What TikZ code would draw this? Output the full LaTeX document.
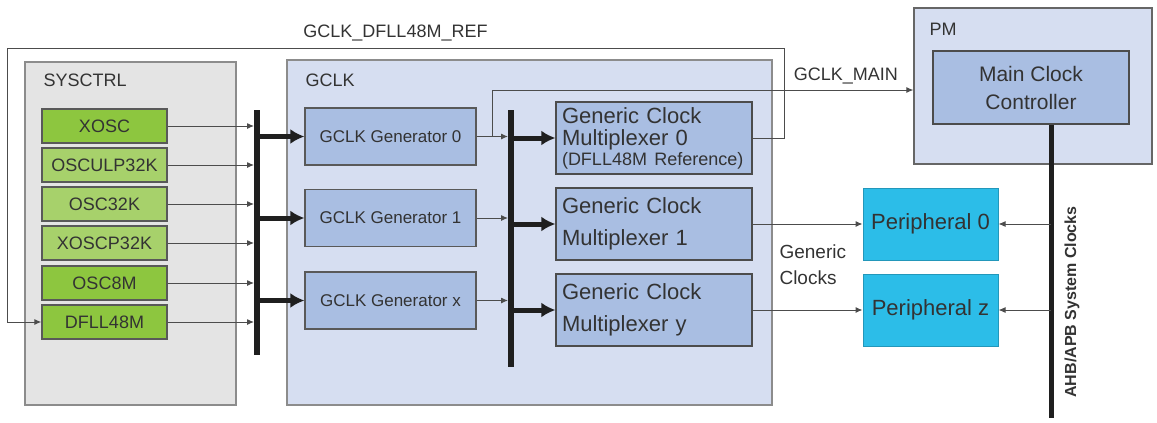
\documentclass[tikz,border=0pt]{standalone}
\usepackage{fontspec}
\setmainfont{Liberation Sans}
\usepackage{xcolor}
\usetikzlibrary{arrows.meta,positioning,calc}

\definecolor{sysgray}{HTML}{E4E4E4}
\definecolor{gclkblue}{HTML}{D6DEF1}
\definecolor{genblue}{HTML}{A9BEE2}
\definecolor{oscdark}{HTML}{8DC63F}
\definecolor{osclight}{HTML}{A7D16B}
\definecolor{periph}{HTML}{2CBDE8}
\definecolor{txt}{HTML}{333333}

\newcommand{\fs}[1]{\fontsize{#1}{#1}\selectfont}

\begin{document}
\begin{tikzpicture}[
    x=1pt, y=-1pt,
    every node/.style={text=txt},
    area/.style={rectangle, draw=black!45, line width=1.2pt, inner sep=0pt},
    osc/.style={rectangle, draw=black!65, line width=1.2pt, minimum width=125pt, minimum height=34pt, inner sep=0pt, font=\fs{18}},
    gen/.style={rectangle, draw=black!65, fill=genblue, line width=1.2pt, minimum width=171pt, minimum height=57pt, font=\fs{17}},
    mux/.style={rectangle, draw=black!70, fill=genblue, line width=1.2pt, minimum width=196pt, minimum height=72pt, text width=184pt, align=left, inner xsep=6pt},
    per/.style={rectangle, draw=periph!80!black, fill=periph, line width=1pt, minimum width=135pt, minimum height=72pt, font=\fs{22}},
    bus/.style={line width=6pt, draw=black!88},
    arrow/.style={-{Latex[length=7pt,width=6pt]}, line width=1pt, draw=black!70},
    fat/.style={-{Latex[length=14pt,width=15pt]}, line width=5pt, draw=black!88},
]
    \useasboundingbox (0,0) rectangle (1157,423);

    % areas
    \node[area, fill=sysgray, minimum width=211pt, minimum height=343pt] (sysctrl) at (130.5,233.5) {};
    \node[area, fill=gclkblue, minimum width=485pt, minimum height=345pt] (gclk) at (529.5,232.5) {};
    \node[area, fill=gclkblue, draw=black!60, minimum width=238pt, minimum height=156pt] (pm) at (1033,86) {};
    \node[anchor=west, font=\fs{18}] at (40,80) {SYSCTRL};
    \node[anchor=west, font=\fs{18}] at (302,80) {GCLK};
    \node[anchor=west, font=\fs{18}] at (926,29) {PM};

    % oscillators
    \node[osc, fill=oscdark] (xosc) at (104.5,126) {XOSC};
    \node[osc, fill=osclight] (osculp) at (104.5,165) {OSCULP32K};
    \node[osc, fill=osclight] (osc32k) at (104.5,204) {OSC32K};
    \node[osc, fill=osclight] (xoscp) at (104.5,243) {XOSCP32K};
    \node[osc, fill=oscdark] (osc8m) at (104.5,283) {OSC8M};
    \node[osc, fill=oscdark] (dfll) at (104.5,322) {DFLL48M};

    % generators
    \node[gen] (gen0) at (390.5,136.5) {GCLK Generator 0};
    \node[gen] (gen1) at (390.5,218) {GCLK Generator 1};
    \node[gen] (genx) at (390.5,300.5) {GCLK Generator x};

    % multiplexers
    \node[mux, font=\fontsize{22}{22}\selectfont] (mux0) at (654,138) {Generic Clock\\Multiplexer 0\\[-2pt]{\fs{18}(DFLL48M Reference)}};
    \node[mux, font=\fontsize{22}{32}\selectfont] (mux1) at (654,224) {Generic Clock\\Multiplexer 1};
    \node[mux, font=\fontsize{22}{32}\selectfont] (muxy) at (654,310) {Generic Clock\\Multiplexer y};

    % PM and peripherals
    \node[rectangle, draw=black!70, fill=genblue, line width=1.2pt, minimum width=196pt, minimum height=73pt, align=center, font=\fontsize{21}{28}\selectfont] (mcc) at (1031,87.5) {Main Clock\\Controller};
    \node[per] (per0) at (930.5,224) {Peripheral 0};
    \node[per] (perz) at (930.5,310) {Peripheral z};

    % buses
    \coordinate (b1top) at (257,110);
    \coordinate (b1bot) at (257,355);
    \coordinate (b2top) at (511,110);
    \coordinate (b2bot) at (511,367);
    \coordinate (b3bot) at (1051,418);
    \draw[bus] (b1top) -- (b1bot);
    \draw[bus] (b2top) -- (b2bot);
    \draw[bus, line width=5pt] (mcc.south -| b3bot) -- (b3bot);

    % sources into bus 1
    \foreach \s in {xosc,osculp,osc32k,xoscp,osc8m,dfll}
        \draw[arrow] (\s.east) -- (\s.east -| 254,0);

    % bus 1 to generators
    \foreach \g in {gen0,gen1,genx}
        \draw[fat] (\g.west -| b1top) -- (\g.west);

    % generators to bus 2
    \foreach \g in {gen0,gen1,genx}
        \draw[arrow] (\g.east) -- (\g.east -| 508,0);

    % bus 2 to multiplexers
    \foreach \m in {mux0,mux1,muxy}
        \draw[fat] (\m.west -| b2top) -- (\m.west);

    % main clock
    \coordinate (tap) at (492,136.5);
    \draw[arrow] (tap) -- (492,90) -- node[pos=0.84, above=2pt, font=\fs{18}] {GCLK\_MAIN} (pm.west |- 0,90);

    % DFLL48M reference feedback
    \draw[line width=1pt, draw=black!70, -{Latex[length=7pt,width=6pt]}] (mux0.east) -- (784,138) -- (784,48)
        -- node[above=3pt, font=\fs{18}] {GCLK\_DFLL48M\_REF} (7,48) -- (7,322) -- (dfll.west);

    % generic clocks
    \draw[arrow] (mux1.east |- per0.west) -- (per0.west);
    \draw[arrow] (muxy.east |- perz.west) -- (perz.west);
    \node[anchor=west, align=left, font=\fontsize{19}{26}\selectfont] (gcl) at (776,265) {Generic\\Clocks};

    % system clocks
    \draw[arrow] (b3bot |- per0.east) -- (per0.east);
    \draw[arrow] (b3bot |- perz.east) -- (perz.east);
    \node[rotate=90, font=\bfseries\fs{16}] (ahb) at (1072,302) {AHB/APB System Clocks};
\end{tikzpicture}
\end{document}
